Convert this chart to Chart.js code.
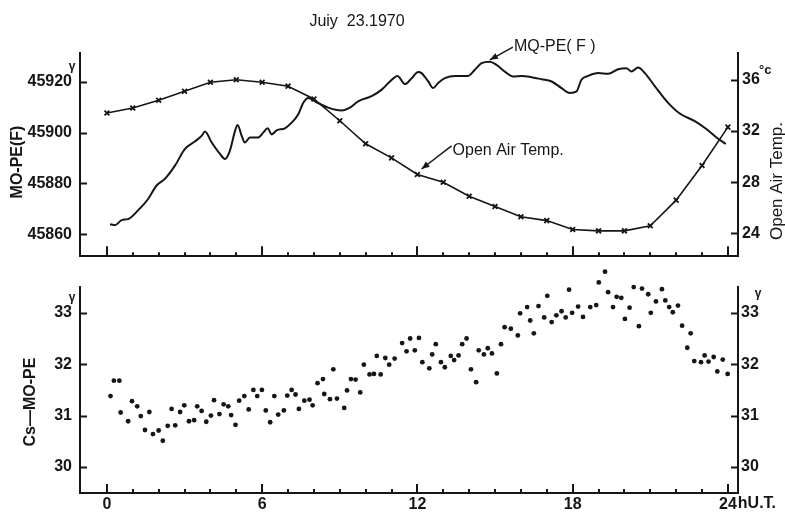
<!DOCTYPE html>
<html>
<head>
<meta charset="utf-8">
<title>MO-PE(F), Open Air Temp., Cs-MO-PE</title>
<script src="https://cdn.jsdelivr.net/npm/chart.js@4"></script>
<style>
  html, body { margin: 0; padding: 0; background: #fff; }
  #wrap { position: relative; width: 785px; height: 513px; overflow: hidden; background: #fff; }
  #top { position: absolute; left: 0; top: 0; }
  #bot { position: absolute; left: 0; top: 262px; }
</style>
</head>
<body>
<div id="wrap">
  <canvas id="top" width="785" height="262"></canvas>
  <canvas id="bot" width="785" height="251"></canvas>
</div>
<script>
// ---- data -------------------------------------------------------------
// hourly open air temperature (°C)
const tempHours = [0,1,2,3,4,5,6,7,8,9,10,11,12,13,14,15,16,17,18,19,20,21,22,23,24];
const airTemp   = [33.4,33.8,34.4,35.1,35.8,36.0,35.8,35.5,34.5,32.8,31.0,29.9,28.6,28.0,26.9,26.1,25.3,25.0,24.3,24.2,24.2,24.6,26.6,29.3,32.3];

// proton magnetometer trace MO-PE(F) (γ)
const moHours = [0.12,0.31,0.57,0.82,1.21,1.60,1.92,2.24,2.63,3.01,3.40,3.66,3.79,4.05,4.37,4.56,4.75,4.95,5.05,5.21,
                 5.33,5.53,5.85,6.04,6.21,6.37,6.56,6.88,7.14,7.39,7.59,7.78,8.04,8.55,9.07,9.39,9.71,10.23,10.62,10.94,
                 11.23,11.52,11.78,12.03,12.16,12.42,12.61,12.80,13.06,13.45,13.96,14.22,14.48,14.80,15.06,15.38,15.70,16.03,16.41,16.80,
                 17.19,17.57,17.89,18.15,18.34,18.60,18.99,19.37,19.76,20.08,20.27,20.53,20.79,21.18,21.69,22.14,22.72,23.18,23.56,23.92];
const moField = [45864.0,45863.6,45865.6,45866.0,45869.5,45874.0,45879.2,45881.8,45887.0,45893.5,45896.5,45898.7,45900.4,45896.1,45891.6,45889.6,45892.8,45900.6,45903.0,45898.7,
                 45896.1,45898.1,45898.1,45900.0,45901.7,45899.3,45900.9,45901.7,45903.9,45907.1,45911.7,45913.6,45912.3,45909.8,45908.7,45909.8,45912.3,45914.3,45916.9,45920.1,
                 45922.3,45919.1,45921.4,45923.8,45923.4,45920.1,45917.5,45919.5,45921.4,45922.3,45922.3,45924.7,45927.3,45927.9,45926.6,45924.0,45922.1,45922.3,45921.8,45921.0,
                 45920.1,45917.5,45915.6,45916.2,45920.8,45922.3,45923.4,45923.1,45924.9,45925.3,45924.0,45925.6,45923.4,45918.2,45911.7,45907.5,45904.5,45901.3,45898.1,45895.5];

// difference Cs - MO-PE (γ), one reading about every ten minutes
const csHours = [0.14,0.27,0.48,0.53,0.82,0.97,1.17,1.31,1.47,1.64,1.78,2.00,2.16,2.35,2.50,2.64,2.83,2.99,3.17,3.37,
                 3.49,3.66,3.84,4.02,4.14,4.35,4.51,4.69,4.80,4.97,5.11,5.31,5.48,5.66,5.81,5.99,6.14,6.31,6.47,6.62,
                 6.84,6.97,7.14,7.29,7.42,7.63,7.83,7.95,8.14,8.35,8.40,8.62,8.75,8.89,9.17,9.28,9.43,9.61,9.79,9.93,
                 10.15,10.32,10.43,10.58,10.76,10.91,11.12,11.41,11.58,11.72,11.90,12.06,12.19,12.46,12.57,12.71,12.91,13.06,13.29,13.42,
                 13.59,13.73,13.90,14.07,14.27,14.37,14.57,14.72,14.88,15.07,15.23,15.37,15.61,15.88,15.97,16.24,16.36,16.50,16.68,16.90,
                 17.02,17.19,17.37,17.57,17.73,17.86,17.98,18.21,18.40,18.68,18.91,19.01,19.25,19.37,19.56,19.70,19.88,20.02,20.20,20.36,
                 20.56,20.68,20.92,21.02,21.22,21.45,21.58,21.73,21.87,22.07,22.23,22.43,22.56,22.70,22.96,23.10,23.25,23.45,23.59,23.80,23.99];
const csDiff  = [31.38,31.68,31.68,31.06,30.89,31.28,31.18,30.99,30.72,31.07,30.64,30.71,30.51,30.80,31.13,30.81,31.07,31.20,30.89,30.91,
                 31.18,31.09,30.88,31.00,31.30,31.03,31.22,31.18,31.01,30.82,31.29,31.38,31.12,31.50,31.38,31.50,31.10,30.87,31.38,31.02,
                 31.10,31.39,31.50,31.41,31.13,31.29,31.31,31.20,31.63,31.71,31.42,31.32,31.90,31.33,31.15,31.49,31.71,31.70,31.45,31.99,
                 31.80,31.81,32.16,31.80,32.12,31.99,32.11,32.41,32.25,32.50,32.27,32.51,32.04,31.92,32.19,32.39,32.04,31.94,32.16,32.08,
                 32.17,32.39,32.50,31.90,31.65,32.27,32.19,32.31,32.21,31.82,32.39,32.72,32.69,32.56,32.99,33.11,32.85,32.60,33.13,32.91,
                 33.33,32.82,32.95,33.03,32.91,33.45,33.00,33.12,32.92,33.11,33.15,33.59,33.80,33.40,33.11,33.31,33.29,32.88,33.10,33.50,
                 32.74,33.47,33.36,33.00,33.22,33.46,33.24,33.11,33.01,33.14,32.75,32.32,32.60,32.06,32.04,32.17,32.05,32.14,31.86,32.09,31.81];

// axis ticks
const hourMarks = [0,1,2,3,4,5,6,7,8,9,10,11,12,13,14,15,16,17,18,19,20,21,22,23,24];
const hourLabels = [0,6,12,18,24];
const fieldTicks = [45860,45880,45900,45920];
const tempTicks = [24,28,32,36];
const csTicks = [30,31,32,33];

// ---- drawing ----------------------------------------------------------
const INK = '#161616';
const FACE = "'Liberation Sans', Arial, sans-serif";
const X_MIN = -1.04, X_MAX = 24.39;

// fixed axis sizes; the label overhang is not allowed to push the plot area
const fixedWidth = w => s => { s.width = w; s.paddingTop = 0; s.paddingBottom = 0; };
const fixedHeight = h => s => { s.height = h; s.paddingLeft = 0; s.paddingRight = 0; };
const useTicks = values => s => { s.ticks = values.map(v => ({ value: v })); };
const plainLabel = v => String(v);

function txt(ctx, s, x, y, font, align, base) {
  ctx.font = font;
  ctx.textAlign = align || 'left';
  ctx.textBaseline = base || 'middle';
  ctx.fillText(s, x, y);
}
function vtxt(ctx, s, x, y, font) {
  ctx.save();
  ctx.translate(x, y);
  ctx.rotate(-Math.PI / 2);
  txt(ctx, s, 0, 0, font, 'center', 'middle');
  ctx.restore();
}
function arrow(ctx, x0, y0, x1, y1) {
  ctx.lineWidth = 1.5;
  ctx.beginPath(); ctx.moveTo(x0, y0); ctx.lineTo(x1, y1); ctx.stroke();
  const ang = Math.atan2(y1 - y0, x1 - x0), L = 8, W = 3.2;
  ctx.beginPath();
  ctx.moveTo(x1, y1);
  ctx.lineTo(x1 - L * Math.cos(ang) + W * Math.sin(ang), y1 - L * Math.sin(ang) - W * Math.cos(ang));
  ctx.lineTo(x1 - L * Math.cos(ang) - W * Math.sin(ang), y1 - L * Math.sin(ang) + W * Math.cos(ang));
  ctx.closePath(); ctx.fill();
}

// tick marks pointing into the plot, taller every six hours
function inwardTicks(cfg) {
  return {
    id: 'inwardTicks',
    afterDatasetsDraw(chart) {
      const ctx = chart.ctx, a = chart.chartArea, xs = chart.scales.x;
      ctx.save();
      ctx.strokeStyle = INK; ctx.lineWidth = 2;
      ctx.beginPath();
      hourMarks.forEach(h => {
        const px = Math.round(xs.getPixelForValue(h));
        const len = h % 6 === 0 ? cfg.major : cfg.minor;
        ctx.moveTo(px, a.bottom); ctx.lineTo(px, a.bottom - len);
      });
      cfg.y.forEach(id => {
        const s = chart.scales[id];
        const left = s.position === 'left';
        const x0 = left ? a.left : a.right;
        s.ticks.forEach(t => {
          const py = Math.round(s.getPixelForValue(t.value)) + 0.5;
          ctx.moveTo(x0, py); ctx.lineTo(x0 + (left ? cfg.side : -cfg.side), py);
        });
      });
      ctx.stroke();
      ctx.restore();
    }
  };
}

const tickFont = { family: FACE, size: 16, weight: 'bold' };
const plainAxis = { grid: { display: false, drawTicks: false }, border: { display: true, color: INK, width: 2 } };

// upper panel: MO-PE(F) and open air temperature
new Chart(document.getElementById('top'), {
  type: 'line',
  data: {
    datasets: [
      {
        label: 'MO-PE(F)',
        data: moHours.map((h, i) => ({ x: h, y: moField[i] })),
        yAxisID: 'yF',
        borderColor: INK, borderWidth: 2, pointRadius: 0,
        cubicInterpolationMode: 'monotone', fill: false
      },
      {
        label: 'Open Air Temp.',
        data: tempHours.map((h, i) => ({ x: h, y: airTemp[i] })),
        yAxisID: 'yT',
        borderColor: INK, borderWidth: 1.6, tension: 0,
        pointStyle: 'crossRot', pointRadius: 3.4, pointBorderWidth: 1.8,
        pointBorderColor: INK, pointBackgroundColor: INK, fill: false
      }
    ]
  },
  options: {
    responsive: false, animation: false, devicePixelRatio: 1,
    layout: { padding: { top: 53, bottom: 4, left: 0, right: 0 } },
    plugins: { legend: { display: false }, tooltip: { enabled: false } },
    scales: {
      x: Object.assign({ type: 'linear', min: X_MIN, max: X_MAX, ticks: { display: false }, afterFit: fixedHeight(0) }, plainAxis),
      yF: Object.assign({
        type: 'linear', position: 'left', min: 45851.4, max: 45931.3,
        afterBuildTicks: useTicks(fieldTicks), afterFit: fixedWidth(80),
        ticks: { color: INK, font: tickFont, padding: 8, callback: plainLabel }
      }, plainAxis),
      yT: Object.assign({
        type: 'linear', position: 'right', min: 22.22, max: 38.09,
        afterBuildTicks: useTicks(tempTicks), afterFit: fixedWidth(47),
        ticks: { color: INK, font: tickFont, padding: 4, callback: plainLabel }
      }, plainAxis)
    }
  },
  plugins: [
    inwardTicks({ major: 10, minor: 4, side: 7, y: ['yF', 'yT'] }),
    {
      id: 'upperText',
      afterDraw(chart) {
        const ctx = chart.ctx, a = chart.chartArea;
        const xs = chart.scales.x, yF = chart.scales.yF, yT = chart.scales.yT;
        ctx.save();
        ctx.fillStyle = INK; ctx.strokeStyle = INK;
        txt(ctx, 'Juiy  23.1970', 357, 22, '16px ' + FACE, 'center');
        vtxt(ctx, 'MO-PE(F)', 18, 162, 'bold 16px ' + FACE);
        vtxt(ctx, 'Open Air Temp.', 777, 181, '17px ' + FACE);
        txt(ctx, 'γ', a.left - 8, yF.getPixelForValue(45920) - 15, 'bold 12px ' + FACE, 'center');
        txt(ctx, '°c', a.right + 21, yT.getPixelForValue(36) - 9, 'bold 13px ' + FACE, 'left');

        // callout for the field trace
        let tx = xs.getPixelForValue(15.69), ty = yF.getPixelForValue(45933.6);
        arrow(ctx, tx, ty, xs.getPixelForValue(14.80), yF.getPixelForValue(45928.6));
        txt(ctx, 'MQ-PE( F )', tx + 1, ty - 1, '16px ' + FACE, 'left');

        // callout for the temperature curve
        tx = xs.getPixelForValue(13.32); ty = yT.getPixelForValue(30.84);
        arrow(ctx, tx, ty, xs.getPixelForValue(12.16), yT.getPixelForValue(29.03));
        txt(ctx, 'Open Air Temp.', tx + 1, ty + 5, '16px ' + FACE, 'left');
        ctx.restore();
      }
    }
  ]
});

// lower panel: Cs - MO-PE differences
const CS_MIN = 29.494, CS_MAX = 33.91, CS_AXIS_TOP = 33.52;
new Chart(document.getElementById('bot'), {
  type: 'scatter',
  data: {
    datasets: [{
      label: 'Cs-MO-PE',
      data: csHours.map((h, i) => ({ x: h, y: csDiff[i] })),
      yAxisID: 'y',
      pointRadius: 2.4, pointBorderWidth: 0,
      pointBackgroundColor: INK, showLine: false
    }]
  },
  options: {
    responsive: false, animation: false, devicePixelRatio: 1,
    layout: { padding: { top: 4, bottom: 0, left: 0, right: 0 } },
    plugins: { legend: { display: false }, tooltip: { enabled: false } },
    scales: {
      x: Object.assign({
        type: 'linear', min: X_MIN, max: X_MAX,
        afterBuildTicks: useTicks(hourLabels), afterFit: fixedHeight(20),
        ticks: { color: INK, font: tickFont, padding: 2, autoSkip: false, maxRotation: 0, callback: plainLabel }
      }, plainAxis),
      y: {
        type: 'linear', position: 'left', min: CS_MIN, max: CS_MAX,
        afterBuildTicks: useTicks(csTicks), afterFit: fixedWidth(80),
        grid: { display: false, drawTicks: false }, border: { display: false },
        ticks: { color: INK, font: tickFont, padding: 8, callback: plainLabel }
      },
      y2: {
        type: 'linear', position: 'right', min: CS_MIN, max: CS_MAX,
        afterBuildTicks: useTicks(csTicks), afterFit: fixedWidth(47),
        grid: { display: false, drawTicks: false }, border: { display: false },
        ticks: { color: INK, font: tickFont, padding: 3, callback: plainLabel }
      }
    }
  },
  plugins: [
    inwardTicks({ major: 9, minor: 4, side: 7, y: ['y', 'y2'] }),
    {
      id: 'lowerText',
      afterDraw(chart) {
        const ctx = chart.ctx, a = chart.chartArea, xs = chart.scales.x, y = chart.scales.y;
        ctx.save();
        ctx.fillStyle = INK; ctx.strokeStyle = INK; ctx.lineWidth = 2;
        // vertical axes stop a little above the 33 tick
        const yt = Math.round(y.getPixelForValue(CS_AXIS_TOP));
        ctx.beginPath();
        ctx.moveTo(a.left, yt); ctx.lineTo(a.left, a.bottom + 1);
        ctx.moveTo(a.right, yt); ctx.lineTo(a.right, a.bottom + 1);
        ctx.stroke();
        vtxt(ctx, 'Cs—MO-PE', 31, 140, 'bold 16px ' + FACE);
        txt(ctx, 'γ', a.left - 8, y.getPixelForValue(33) - 15, 'bold 12px ' + FACE, 'center');
        txt(ctx, 'γ', a.right + 20, y.getPixelForValue(33) - 19, 'bold 12px ' + FACE, 'center');
        // unit after the last hour label
        ctx.font = 'bold 16px ' + FACE;
        const w24 = ctx.measureText('24').width;
        txt(ctx, 'hU.T.', xs.getPixelForValue(24) + w24 / 2 + 1, a.bottom + 11, 'bold 16px ' + FACE, 'left');
        ctx.restore();
      }
    }
  ]
});
</script>
</body>
</html>
